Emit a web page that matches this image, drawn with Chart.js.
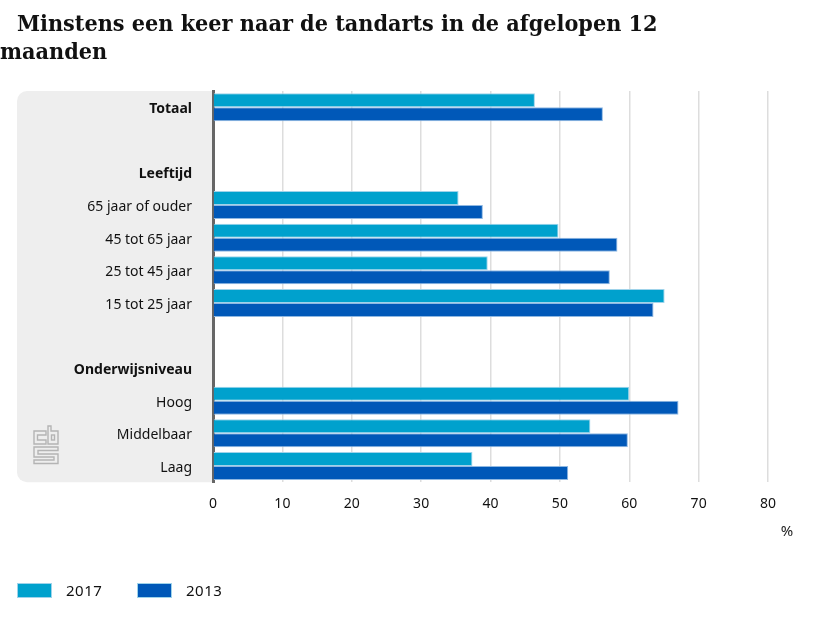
<!DOCTYPE html>
<html>
<head>
<meta charset="utf-8">
<script src="https://cdn.jsdelivr.net/npm/chart.js@4"></script>
<style>
  body { margin: 0; background: #fff; font-family: "Noto Sans", sans-serif; color: #111; }
  #wrap { position: relative; width: 830px; height: 623px; overflow: hidden; }
  #title { position: absolute; left: 0; top: 9px; width: 680px; margin: 0; font-family: "DejaVu Serif Condensed", "DejaVu Serif", serif; font-stretch: condensed; font-size: 23.15px; font-weight: bold; line-height: 28px; text-indent: 17px; }
  #legend { position: absolute; left: 17px; top: 580px; display: flex; font-size: 15px; line-height: 20px; letter-spacing: 0.5px; }
  #legend div { display: flex; align-items: center; width: 120px; }
  #legend i { width: 33px; height: 13px; margin-right: 14px; border: 1px solid #9fd3ea; }
  #logo { position: absolute; left: 33px; top: 425px; }
</style>
</head>
<body>
<div id="wrap">
  <h1 id="title">Minstens een keer naar de tandarts in de afgelopen 12 maanden</h1>
  <canvas id="chart" width="830" height="623"></canvas>
  <svg id="logo" width="26" height="40" viewBox="0 0 26 40" fill="none" stroke="#b4b4b4" stroke-width="1.4">
    <path d="M13 6H1V19H13V15H4.5V10H13Z"/>
    <path d="M15 1V19H25V6H18V1Z"/>
    <rect x="18.5" y="10" width="3" height="5"/>
    <path d="M25 22H1V32H21V35H1V38.5H25V29H5V25.5H25Z"/>
  </svg>
  <div id="legend"></div>
</div>
<script>
const categories = ["Totaal", "", "Leeftijd", "65 jaar of ouder", "45 tot 65 jaar", "25 tot 45 jaar", "15 tot 25 jaar", "", "Onderwijsniveau", "Hoog", "Middelbaar", "Laag"];
const boldLabels = ["Totaal", "Leeftijd", "Onderwijsniveau"];
const values2017 = [46.4, null, null, 35.4, 49.8, 39.6, 65.1, null, null, 60.0, 54.4, 37.4];
const values2013 = [56.2, null, null, 38.9, 58.3, 57.2, 63.5, null, null, 67.1, 59.8, 51.2];
const seriesNames = ["2017", "2013"];
const seriesColors = ["#00a1cd", "#0058b8"];
const xTicks = [0, 10, 20, 30, 40, 50, 60, 70, 80];

const fontFamily = '"Noto Sans", sans-serif';

// grey band behind the labels, the % unit
const panelPlugin = {
  id: "panel",
  afterLayout(chart) {
    // the labels sit a little under the middle of their band
    chart.scales.y.getLabelItems(chart.chartArea).forEach(item => { item.textOffset += 2; });
  },
  beforeDraw(chart) {
    const ctx = chart.ctx, area = chart.chartArea;
    ctx.save();
    ctx.fillStyle = "#eeeeee";
    ctx.beginPath();
    ctx.roundRect(17, area.top, area.left - 17, area.bottom - area.top, [10, 0, 0, 10]);
    ctx.fill();
    ctx.restore();
  },
  afterDraw(chart) {
    const ctx = chart.ctx, x = chart.scales.x;
    ctx.save();
    ctx.fillStyle = "#222";
    ctx.font = "15px " + fontFamily;
    ctx.textAlign = "center";
    ctx.textBaseline = "middle";
    ctx.fillText("%", x.getPixelForValue(80) + 19, 532);
    ctx.restore();
  }
};

new Chart(document.getElementById("chart"), {
  type: "bar",
  data: {
    labels: categories,
    datasets: [
      { label: seriesNames[0], data: values2017, backgroundColor: seriesColors[0], borderColor: "#9fd3ea", borderWidth: 1, categoryPercentage: 0.86, barPercentage: 1 },
      { label: seriesNames[1], data: values2013, backgroundColor: seriesColors[1], borderColor: "#8fb8e2", borderWidth: 1, categoryPercentage: 0.86, barPercentage: 1 }
    ]
  },
  options: {
    indexAxis: "y",
    responsive: false,
    animation: false,
    layout: { padding: { top: 91, right: 62, bottom: 98, left: 0 } },
    plugins: { legend: { display: false }, tooltip: { enabled: false } },
    scales: {
      x: {
        min: 0,
        max: 80,
        afterBuildTicks: s => { s.ticks = xTicks.map(v => ({ value: v })); },
        grid: { color: "#dddddd", lineWidth: 1.5, drawTicks: false },
        border: { display: false },
        ticks: { color: "#111", padding: 13, maxRotation: 0, font: { family: fontFamily, size: 14 } }
      },
      y: {
        afterFit: s => { s.width = 213; },
        grid: { display: false, drawTicks: false },
        border: { color: "#666666", width: 3 },
        ticks: {
          autoSkip: false,
          padding: 21,
          color: "#111",
          font: c => ({ family: fontFamily, size: 14, weight: boldLabels.includes(categories[c.index]) ? "bold" : "normal" })
        }
      }
    }
  },
  plugins: [panelPlugin]
});

document.getElementById("legend").innerHTML = seriesNames.map((name, i) =>
  `<div><i style="background:${seriesColors[i]}"></i>${name}</div>`).join("");
</script>
</body>
</html>
